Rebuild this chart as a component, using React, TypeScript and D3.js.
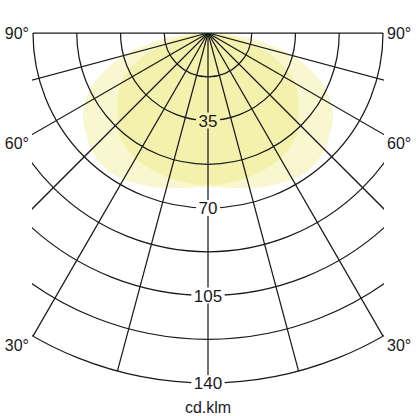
import * as d3 from "d3";

// intensity rings (cd/klm) and which of them get a label
const ringValues = [17.5, 35, 52.5, 70, 87.5, 105, 122.5, 140];
const ringLabels = [35, 70, 105, 140];
// spokes, degrees from nadir
const spokeAngles = [-75, -60, -45, -30, -15, 0, 15, 30, 45, 60, 75];
const angleLabels = [90, 60, 30];

// light distribution, half plane (degrees from nadir -> cd/klm)
const curveAngles = [0, 10, 20, 30, 35, 40, 45, 50, 55, 60, 65, 70, 75, 80, 85, 90];
const planeWide = [61.5, 63, 65.5, 67.5, 68, 67.5, 66, 63.5, 61, 57, 51.5, 44, 35, 24, 12, 0];
const planeNarrow = [61, 60.5, 59.5, 58, 56.5, 54.5, 51, 47.5, 44, 40.5, 35, 27.5, 19.5, 12, 5, 0];

const W = 416;
const cx = 208;
const cy = 33;
const half = 175; // grid is cut off left and right at this distance

const r = d3.scaleLinear().domain([0, 140]).range([0, 350]);
const rad = (deg: number) => (deg * Math.PI) / 180;

type Pt = { a: number; v: number };

const mirror = (vals: number[]): Pt[] => {
  const right = curveAngles.map((a, i) => ({ a, v: vals[i] }));
  const left = right
    .slice(1)
    .reverse()
    .map((d) => ({ a: -d.a, v: d.v }));
  return [...left, ...right];
};

const radial = d3
  .lineRadial<Pt>()
  .angle((d) => Math.PI - rad(d.a))
  .radius((d) => r(d.v))
  .curve(d3.curveCatmullRom.alpha(0.5));

const stroke = "#1a1a1a";
const font = "'Liberation Sans', Arial, sans-serif";
const labelSize = 17;

export default function App() {
  return (
    <svg
      width={W}
      height={W}
      style={{ position: "absolute", left: 0, top: 0, background: "#fff" }}
    >
      <defs>
        <clipPath id="gridClip">
          <rect x={cx - half - 1} y={cy} width={2 * half + 2} height={W - cy} />
        </clipPath>
        <mask id="labelGaps" maskUnits="userSpaceOnUse">
          <rect x={0} y={0} width={W} height={W} fill="white" />
          {ringLabels.map((v) => {
            const w = String(v).length * 0.556 * labelSize + 5;
            return (
              <rect
                key={v}
                x={cx - w / 2}
                y={cy + r(v) - 8}
                width={w}
                height={16}
                fill="black"
              />
            );
          })}
        </mask>
      </defs>

      {/* light distribution */}
      <g transform={`translate(${cx},${cy})`}>
        <path d={radial(mirror(planeWide)) ?? ""} fill="#f9f7cf" />
        <path d={radial(mirror(planeNarrow)) ?? ""} fill="#f4f1ad" />
      </g>

      {/* grid */}
      <g mask="url(#labelGaps)">
        <g clipPath="url(#gridClip)" fill="none" stroke={stroke} strokeWidth={1.25}>
          {ringValues.map((v) => (
            <circle key={v} cx={cx} cy={cy} r={r(v)} />
          ))}
          {spokeAngles.map((a) => (
            <line
              key={a}
              x1={cx}
              y1={cy}
              x2={cx + r(140) * Math.sin(rad(a))}
              y2={cy + r(140) * Math.cos(rad(a))}
            />
          ))}
        </g>
        <line
          x1={cx - half}
          x2={cx + half}
          y1={cy}
          y2={cy}
          stroke={stroke}
          strokeWidth={1.25}
        />
      </g>

      {/* ring labels */}
      {ringLabels.map((v) => (
        <text
          key={v}
          x={cx}
          y={cy + r(v)}
          dy="0.36em"
          textAnchor="middle"
          fontFamily={font}
          fontSize={labelSize}
          fill="#1a1a1a"
        >
          {v}
        </text>
      ))}

      {/* angle labels */}
      {angleLabels.map((a) => {
        const y = cy + (a === 90 ? 0 : half / Math.tan(rad(a)) + 9);
        return (
          <g key={a} fontFamily={font} fontSize={16} fill="#1a1a1a">
            <text x={cx - half - 4} y={y} dy="0.36em" textAnchor="end">
              {a}°
            </text>
            <text x={cx + half + 4} y={y} dy="0.36em" textAnchor="start">
              {a}°
            </text>
          </g>
        );
      })}

      <text
        x={cx}
        y={407}
        dy="0.36em"
        textAnchor="middle"
        fontFamily={font}
        fontSize={16}
        fill="#1a1a1a"
      >
        cd.klm
      </text>
    </svg>
  );
}
